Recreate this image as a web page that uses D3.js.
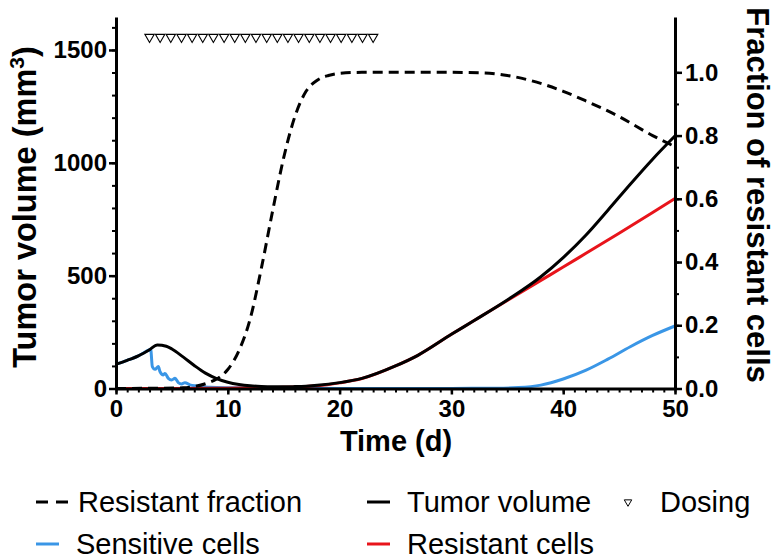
<!DOCTYPE html>
<html><head><meta charset="utf-8">
<script src="https://cdn.jsdelivr.net/npm/d3@7"></script>
<style>body{margin:0;background:#fff}svg{display:block}</style>
</head><body><svg id="c" width="774" height="559"></svg>
<script>
// ---- data ----
const tumorT = [0,1,2,3,3.7,4.5,5,6,7,8,9,10,11,12,13,14,15,16,17,18,20,22,25,27,30,32,35,38,40,42,44,46,48,50];
const tumorV = [108,125,145,172,193,187,175,140,102,68,44,28,18,12,9,7.5,7.3,8.5,10.5,14,26,45,100,147,240,300,392,495,580,678,790,905,1016,1119];
const sensT = [0,1,2,3,3.1,3.25,3.49,3.79,3.94,4.23,4.38,4.68,4.98,5.28,5.57,5.87,6.17,6.6,7.2,7.8,8.4,10,15,20,25,30,34,36,38,40,42,44,46,48,50];
const sensV = [108,125,145,172,174,97,85,97,74,60,67,45,38,45,26,20,26,16,11,8,5,3,1,0.5,0.5,0.5,1,4,15,42,80,130,185,235,277];
const resT = [0,5,10,12,13,14,15,16,17,18,20,22,25,27,30,32,35,38,40,42,45,48,50];
const resV = [0,0.3,1.6,2.6,3.4,4.2,5.1,6.5,8.5,11.7,25,44,100,147,240,300,390,479,538,598,688,780,842];
const fracT = [0,6,7,8,9,10,11,12,13,14,15,16,17,18,19,20,22,30,33,35,37,40,42,45,48,50];
const fracV = [0,0.002,0.006,0.015,0.03,0.06,0.12,0.22,0.38,0.56,0.73,0.86,0.94,0.975,0.99,0.997,1,1,0.998,0.99,0.975,0.94,0.91,0.86,0.8,0.765];
const doseT = [3.0,3.95,4.9,5.86,6.81,7.76,8.71,9.67,10.62,11.57,12.52,13.48,14.43,15.38,16.33,17.29,18.24,19.19,20.14,21.1,22.05,23.0];
const doseLevel = 1557;
const xTicks = [0,10,20,30,40,50];
const yLTicks = [0,500,1000,1500];
const yRTicks = [0,0.2,0.4,0.6,0.8,1.0];

// ---- scales ----
const svg = d3.select("#c");
const x = d3.scaleLinear().domain([0,50]).range([116,675]);
const yL = d3.scaleLinear().domain([0,1646]).range([388.5,17]);
const yR = d3.scaleLinear().domain([0,1.175]).range([388.5,17]);
const FONT = "'Liberation Sans', Arial, Helvetica, sans-serif";

function zip(a,b){return a.map((t,i)=>[t,b[i]]);}
const lineL = d3.line().x(d=>x(d[0])).y(d=>yL(d[1])).curve(d3.curveMonotoneX);
const lineR = d3.line().x(d=>x(d[0])).y(d=>yR(d[1])).curve(d3.curveMonotoneX);

// ---- curves ----
svg.append("path").attr("d",lineL(zip(sensT,sensV))).attr("fill","none").attr("stroke","#3a96e6").attr("stroke-width",3);
svg.append("path").attr("d",lineL(zip(resT,resV))).attr("fill","none").attr("stroke","#e8141b").attr("stroke-width",3);
svg.append("path").attr("d",lineL(zip(tumorT,tumorV))).attr("fill","none").attr("stroke","#000").attr("stroke-width",3);
svg.append("path").attr("d",lineR(zip(fracT,fracV))).attr("fill","none").attr("stroke","#000").attr("stroke-width",3).attr("stroke-dasharray","10,6");

// dosing triangles
const tri = d3.symbol().type(d3.symbolTriangle).size(38);
svg.append("g").selectAll("path").data(doseT).join("path")
  .attr("d",tri()).attr("transform",d=>`translate(${x(d)},${yL(doseLevel)}) rotate(180)`)
  .attr("fill","#fff").attr("stroke","#000").attr("stroke-width",1.1);

// ---- axes ----
function styleAxis(g){
  g.select(".domain").attr("stroke-width",3);
  g.selectAll(".tick line").attr("stroke-width",2.5);
  g.selectAll("text").attr("font-family",FONT).attr("font-weight","bold").attr("font-size",24).attr("fill","#000");
}
// minor
svg.append("g").attr("transform","translate(0,388.5)")
  .call(d3.axisBottom(x).tickValues(d3.range(0,51,1)).tickSize(4).tickFormat(""))
  .call(g=>{g.select(".domain").remove();g.selectAll(".tick line").attr("stroke-width",2);});
svg.append("g").attr("transform","translate(116,0)")
  .call(d3.axisLeft(yL).tickValues(d3.range(0,1601,100)).tickSize(4).tickFormat(""))
  .call(g=>{g.select(".domain").remove();g.selectAll(".tick line").attr("stroke-width",2);});
svg.append("g").attr("transform","translate(675,0)")
  .call(d3.axisRight(yR).tickValues(d3.range(0,11,1).map(d=>d/10)).tickSize(4).tickFormat(""))
  .call(g=>{g.select(".domain").remove();g.selectAll(".tick line").attr("stroke-width",2);});
// major
svg.append("g").attr("transform","translate(0,388.5)")
  .call(d3.axisBottom(x).tickValues(xTicks).tickSize(6).tickSizeOuter(0).tickPadding(5).tickFormat(d3.format("d")))
  .call(styleAxis);
svg.append("g").attr("transform","translate(116,0)")
  .call(d3.axisLeft(yL).tickValues(yLTicks).tickSize(7).tickSizeOuter(0).tickPadding(2).tickFormat(d3.format("d")))
  .call(styleAxis);
svg.append("g").attr("transform","translate(675,0)")
  .call(d3.axisRight(yR).tickValues(yRTicks).tickSize(7).tickSizeOuter(0).tickPadding(3).tickFormat(d3.format(".1f")))
  .call(styleAxis);

// ---- titles ----
svg.append("text").attr("x",396).attr("y",451).attr("text-anchor","middle")
  .attr("font-family",FONT).attr("font-weight","bold").attr("font-size",29).text("Time (d)");
const lt = svg.append("text").attr("transform","translate(36,207) rotate(-90)").attr("text-anchor","middle")
  .attr("font-family",FONT).attr("font-weight","bold").attr("font-size",32.5);
lt.append("tspan").text("Tumor volume (mm");
lt.append("tspan").attr("dy",-12).attr("font-size",21).text("3");
lt.append("tspan").attr("dy",12).text(")");
svg.append("text").attr("transform","translate(747,195) rotate(90)").attr("text-anchor","middle")
  .attr("font-family",FONT).attr("font-weight","bold").attr("font-size",31).text("Fraction of resistant cells");

// ---- legend ----
const legend = [
  {label:"Resistant fraction", type:"dash", color:"#000", lx:36, ly:502},
  {label:"Tumor volume", type:"line", color:"#000", lx:367, ly:502},
  {label:"Dosing", type:"tri", color:"#000", lx:628, ly:502},
  {label:"Sensitive cells", type:"line", color:"#3a96e6", lx:36, ly:544},
  {label:"Resistant cells", type:"line", color:"#e8141b", lx:367, ly:544}
];
const lg = svg.append("g");
legend.forEach(d=>{
  if(d.type==="tri"){
    lg.append("path").attr("d",d3.symbol().type(d3.symbolTriangle).size(24)()).attr("transform",`translate(${d.lx},${d.ly}) rotate(180)`)
      .attr("fill","#fff").attr("stroke","#000").attr("stroke-width",1);
    lg.append("text").attr("x",d.lx+32).attr("y",d.ly).attr("dy","0.35em").attr("font-family",FONT).attr("font-size",29).text(d.label);
  } else {
    lg.append("line").attr("x1",d.lx).attr("x2",d.lx+(d.type==="dash"?32:23)).attr("y1",d.ly).attr("y2",d.ly)
      .attr("stroke",d.color).attr("stroke-width",3).attr("stroke-dasharray",d.type==="dash"?"12,8":null);
    lg.append("text").attr("x",d.lx+(d.type==="dash"?42:40)).attr("y",d.ly).attr("dy","0.35em").attr("font-family",FONT).attr("font-size",29).text(d.label);
  }
});
</script></body></html>
